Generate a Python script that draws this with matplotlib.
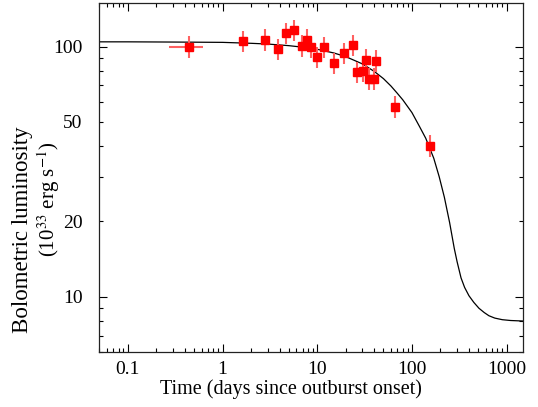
import matplotlib
matplotlib.use("Agg")
import matplotlib.pyplot as plt
from matplotlib.ticker import LogLocator, FixedLocator, FixedFormatter, NullFormatter

plt.rcParams['font.family'] = ['Liberation Serif', 'DejaVu Serif']
plt.rcParams['mathtext.fontset'] = 'stix'

# Observed data
t_days = [0.44, 1.65, 2.81, 3.85, 4.72, 5.67, 6.89, 7.85, 8.5, 9.9, 11.7,
          14.95, 19.05, 24.1, 26.4, 30.5, 32.5, 35.3, 40.1, 41.4, 65.6, 157.0]
lum = [99.5, 104.9, 106.2, 97.4, 112.9, 116.1, 100.7, 106.2, 99.3, 90.5, 99.3,
       85.7, 93.9, 101.1, 78.9, 79.8, 88.1, 74.1, 74.1, 87.3, 57.3, 40.0]
lum_err_lo = [9.5, 10.0, 10.1, 9.3, 10.7, 11.0, 9.6, 10.1, 9.4, 8.6, 9.4,
              8.1, 8.9, 9.6, 7.5, 7.6, 8.4, 7.0, 7.0, 8.3, 5.4, 3.8]
lum_err_hi = [10.4, 11.0, 11.2, 10.2, 11.9, 12.2, 10.6, 11.2, 10.4, 9.5, 10.4,
              9.0, 9.9, 10.6, 8.3, 8.4, 9.3, 7.8, 7.8, 9.2, 6.0, 4.2]
t_err_lo = [0.17] + [0.0] * 21
t_err_hi = [0.18] + [0.0] * 21

# Model curve
model_t = [0.05, 0.1, 0.3, 1, 2, 3, 5, 7, 10, 15, 20, 30, 40, 50, 60, 70, 80,
           100, 120, 140, 170, 194, 220, 250, 280, 300, 330, 360, 400, 450,
           510, 580, 650, 750, 900, 1100, 1500]
model_L = [104.5, 104.5, 104.3, 104.0, 103.1, 102.4, 100.9, 99.5, 97.6, 94.3,
           91.2, 85.3, 79.6, 74.5, 69.6, 65.1, 61.3, 54.5, 48.0, 43.0, 35.8,
           30.2, 25.0, 19.8, 15.6, 13.8, 11.9, 10.9, 10.1, 9.5, 9.0, 8.65,
           8.4, 8.22, 8.1, 8.04, 8.0]

y_tick_vals = [10, 20, 50, 100]
y_tick_labels = ['10', '20', '50', '100']
x_tick_vals = [0.1, 1, 10, 100, 1000]
x_tick_labels = ['0.1', '1', '10', '100', '1000']

fig = plt.figure(figsize=(5.38, 4.07), dpi=100)
ax = fig.add_axes([0.1846, 0.1344, 0.7881, 0.8575])

ax.plot(model_t, model_L, color='black', lw=0.9, zorder=2)
ax.errorbar(t_days, lum, yerr=[lum_err_lo, lum_err_hi],
            xerr=[t_err_lo, t_err_hi], fmt='none',
            ecolor=(1.0, 0.38, 0.38), elinewidth=1.5, capsize=0, zorder=3)
ax.plot(t_days, lum, 's', color='#ff0000', ms=5.4, mec='#ff0000', zorder=4)

ax.set_xscale('log')
ax.set_yscale('log')
ax.set_xlim(0.05, 1500)
ax.set_ylim(6.0, 149)

ax.xaxis.set_major_locator(FixedLocator(x_tick_vals))
ax.xaxis.set_major_formatter(FixedFormatter(x_tick_labels))
ax.xaxis.set_minor_locator(LogLocator(base=10, subs=range(2, 10), numticks=20))
ax.xaxis.set_minor_formatter(NullFormatter())

ax.yaxis.set_major_locator(FixedLocator([10, 100]))
ax.yaxis.set_major_formatter(FixedFormatter(['10', '100']))
ax.yaxis.set_minor_locator(LogLocator(base=10, subs=range(2, 10), numticks=20))
def yminor(v, pos):
    for tv, tl in zip(y_tick_vals, y_tick_labels):
        if abs(v - tv) / tv < 1e-6 and tv not in (10, 100):
            return tl
    return ''
ax.yaxis.set_minor_formatter(plt.FuncFormatter(yminor))

ax.tick_params(which='both', direction='in', top=True, right=True,
               labelsize=14, width=0.8, colors='black')
ax.tick_params(which='major', length=5.5)
ax.tick_params(which='minor', length=3)
ax.tick_params(axis='y', which='both', pad=12)
ax.tick_params(axis='x', which='both', pad=6.5)
for s in ax.spines.values():
    s.set_linewidth(0.9)
    s.set_color('#222222')

fig.text(291 / 538, 1 - 389 / 407, 'Time (days since outburst onset)',
         ha='center', va='center', fontsize=14.5)
fig.text(23 / 538, 1 - 230 / 407, 'Bolometric luminosity', rotation=90,
         ha='center', va='center', fontsize=16.5)
fig.text(49 / 538, 1 - 199 / 407, r'(10$^{33}$ erg s$^{-1}$)', rotation=90,
         ha='center', va='center', fontsize=15)

fig.savefig('out.png', dpi=100)
